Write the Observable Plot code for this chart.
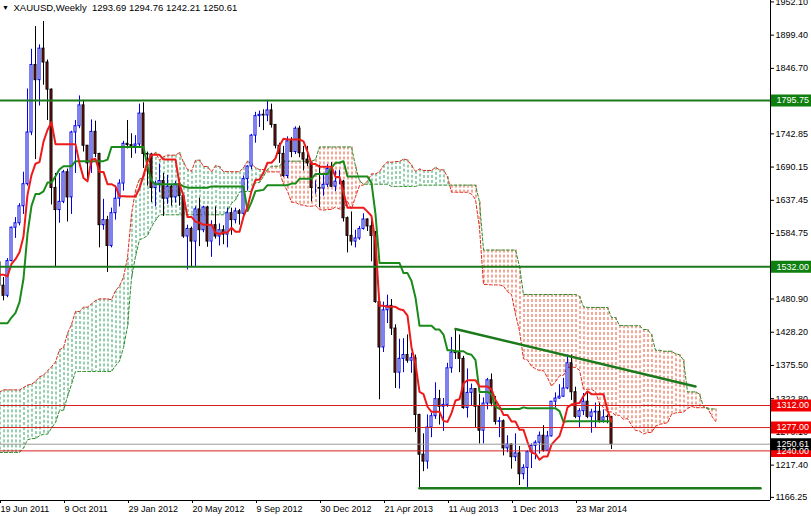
<!DOCTYPE html>
<html><head><meta charset="utf-8">
<script src="https://cdn.jsdelivr.net/npm/d3@7"></script>
<script src="https://cdn.jsdelivr.net/npm/@observablehq/plot@0.6"></script>
<style>html,body{margin:0;padding:0;background:#fff;} svg{display:block;}</style>
</head><body><div id="chart"></div>
<script>
// ---------- data (weekly bars, index 0 = week of 19 Jun 2011) ----------
const symbolName = "XAUUSD,Weekly";
const barOpen = [
1539,1502,1486,1541,1594,1601,1628,1663,1745,1852,
1828,1878,1856,1813,1657,1622,1635,1682,1642,1745,
1755,1788,1724,1696,1746,1711,1598,1606,1565,1617,
1640,1664,1727,1725,1723,1726,1775,1711,1710,1657,
1663,1668,1640,1659,1642,1663,1644,1580,1592,1572,
1623,1590,1626,1572,1598,1580,1590,1583,1617,1606,
1620,1616,1671,1691,1740,1771,1773,1772,1780,1757,
1724,1711,1676,1731,1714,1751,1712,1702,1696,1657,
1657,1656,1662,1687,1659,1667,1667,1609,1581,1572,
1577,1592,1607,1596,1581,1476,1404,1463,1470,1434,
1364,1386,1392,1383,1387,1297,1234,1223,1277,1295,
1322,1310,1313,1371,1396,1395,1386,1308,1332,1338,
1310,1272,1315,1352,1315,1286,1287,1244,1250,1230,
1236,1203,1213,1238,1248,1253,1264,1240,1263,1318,
1323,1326,1339,1379,1333,1294,1303,1318,1294,1301,
1302,1288,1294,1293.69];
const barHigh = [
1556,1515,1545,1595,1610,1632,1682,1814,1877,1913,
1884,1921,1860,1814,1680,1680,1685,1687,1747,1764,
1803,1796,1724,1765,1763,1712,1639,1612,1625,1660,
1670,1731,1764,1743,1740,1790,1792,1714,1712,1668,
1695,1680,1677,1661,1667,1670,1645,1598,1595,1627,
1641,1628,1628,1605,1627,1600,1597,1625,1625,1625,
1623,1676,1692,1742,1777,1779,1781,1796,1790,1757,
1728,1723,1738,1737,1754,1755,1723,1723,1698,1668,
1693,1679,1694,1697,1684,1685,1669,1611,1619,1590,
1596,1616,1608,1605,1588,1480,1476,1487,1480,1440,
1417,1418,1424,1395,1392,1298,1267,1297,1300,1348,
1336,1323,1379,1420,1433,1424,1390,1370,1346,1338,
1330,1324,1355,1362,1326,1293,1289,1264,1251,1267,
1247,1218,1240,1251,1256,1270,1280,1271,1318,1332,
1345,1355,1392,1392,1341,1307,1331,1331,1306,1316,
1315,1305,1297,1294.76];
const barLow = [
1495,1478,1483,1540,1577,1597,1615,1660,1740,1702,
1787,1820,1764,1630,1532,1601,1632,1603,1615,1680,
1751,1714,1670,1680,1705,1562,1590,1523,1562,1606,
1627,1652,1719,1704,1711,1722,1688,1660,1634,1627,
1650,1612,1631,1628,1633,1628,1577,1527,1532,1532,
1564,1586,1563,1547,1576,1565,1567,1562,1582,1600,
1598,1612,1652,1686,1728,1753,1748,1762,1752,1719,
1696,1674,1672,1705,1710,1705,1684,1691,1635,1647,
1626,1644,1658,1658,1651,1662,1603,1554,1565,1562,
1574,1590,1588,1540,1474,1321,1396,1442,1423,1339,
1338,1364,1379,1363,1269,1180,1207,1211,1261,1290,
1281,1271,1309,1363,1385,1364,1306,1292,1311,1277,
1251,1251,1305,1310,1281,1261,1232,1237,1211,1223,
1185,1194,1182,1212,1226,1235,1238,1240,1262,1308,
1322,1325,1337,1320,1291,1277,1296,1291,1268,1277,
1284,1284,1283,1242.21];
const barClose = [
1502,1486,1541,1594,1601,1628,1663,1745,1852,1828,
1878,1856,1813,1657,1622,1635,1682,1642,1745,1755,
1788,1724,1696,1746,1711,1598,1606,1565,1617,1640,
1664,1727,1725,1723,1726,1775,1711,1710,1657,1663,
1668,1640,1659,1642,1663,1644,1580,1592,1572,1623,
1590,1626,1572,1598,1580,1590,1583,1617,1606,1620,
1616,1671,1691,1740,1771,1773,1772,1780,1757,1724,
1711,1676,1731,1714,1751,1712,1702,1696,1657,1657,
1656,1662,1687,1659,1667,1667,1609,1581,1572,1577,
1592,1607,1596,1581,1476,1404,1463,1470,1434,1364,
1386,1392,1383,1387,1297,1234,1223,1277,1295,1322,
1310,1313,1371,1396,1395,1386,1308,1332,1338,1310,
1272,1315,1352,1315,1286,1287,1244,1250,1230,1236,
1203,1213,1238,1248,1253,1264,1240,1263,1318,1323,
1326,1339,1379,1333,1294,1303,1318,1294,1301,1302,
1288,1293,1293.69,1250.61];

// Ichimoku lines (Tenkan red, Kijun green), one value per bar
const tenkan = [
1519.5,1519.5,1517,1536.5,1544,1555,1580,1646,1677.5,1695.5,
1698,1730.5,1749,1761.5,1726.5,1726.5,1726.5,1726.5,1726.5,1726.5,
1696,1673,1667.5,1702,1703,1682.5,1682.5,1663,1663,1659.5,
1644,1644,1643.5,1643.5,1643.5,1656.5,1677,1699,1709.5,1709.5,
1709.5,1702,1702,1702,1702,1663,1644.5,1611,1611,1603.5,
1602,1598.5,1598.5,1598.5,1586,1584,1586.5,1586.5,1594,1587.5,
1587.5,1611.5,1627,1652,1669.5,1670.5,1681.5,1697,1697,1704,
1724,1735,1734,1734,1734,1734,1731,1714.5,1695,1695,
1690.5,1690.5,1690.5,1690.5,1674.5,1674.5,1650,1625.5,1625.5,1625.5,
1625.5,1625.5,1619.5,1612.5,1571.5,1470,1470,1468.5,1468.5,1468.5,
1464.5,1463,1454.5,1404,1378,1333.5,1330,1310,1302,1302,
1302,1287.5,1286,1300,1320,1322,1347,1352,1352,1352,
1342,1342,1342,1337.5,1320.5,1310.5,1297,1297,1286.5,1286.5,
1273.5,1273.5,1254,1237.5,1235.5,1226,1231,1231,1250,1257,
1263.5,1283.5,1309,1313.5,1315,1316,1327,1334.5,1330,1330,
1330,1330,1304.5,1286.5];
const kijun = [
1442.5,1442.5,1442.5,1451.5,1459,1476,1513,1584.5,1628.5,1647.5,
1647.5,1651.5,1665.5,1665.5,1675.5,1686.5,1691.5,1691.5,1691.5,1699.5,
1699.5,1699.5,1699.5,1699.5,1699.5,1699.5,1699.5,1702,1722,1722,
1722,1722,1722,1722,1722,1722,1722,1691.5,1668.5,1663,
1663,1663,1663,1663,1663,1663,1659.5,1657.5,1657.5,1657.5,
1657.5,1657.5,1657.5,1659.5,1659.5,1659.5,1659.5,1659.5,1659.5,1659.5,
1659.5,1659.5,1620.5,1634.5,1652,1653,1654,1661.5,1661.5,1661.5,
1661.5,1661.5,1661.5,1664,1664,1671.5,1671.5,1671.5,1671.5,1679,
1679,1679,1679,1689,1697,1697,1699.5,1675,1675,1675,
1675,1675,1675,1665,1615.5,1538,1538,1538,1538,1538,
1538,1522,1522,1509.5,1483,1438.5,1438.5,1438.5,1438.5,1432.5,
1432.5,1424.5,1399.5,1399.5,1398,1398,1398,1394,1392.5,1384,
1333.5,1333.5,1333.5,1330,1310,1306.5,1306.5,1306.5,1306.5,1306.5,
1306.5,1309,1307.5,1307.5,1307.5,1307.5,1307.5,1307.5,1307.5,1307.5,
1303,1286,1287,1287,1287,1287,1287,1287,1287,1287,
1287,1287,1287,1287];
// Cloud edges (Senkou Span A red dashed, Span B green dashed), bars 0..179 (26 bars ahead)
const spanA = [
1333.25,1336.75,1336.75,1336.75,1336.75,1336.5,1340.5,1344.25,1345.75,1350,
1357.5,1360,1367,1373.5,1381,1400.5,1403.75,1426.5,1440.5,1461,
1461,1468,1468,1473,1478.5,1481,
1481,1481,1479.75,1494,1501.5,1515.5,1546.5,1615.25,1653,1671.5,
1672.75,1691,1707.25,1713.5,1701,1706.5,1709,1709,1709,1713,
1697.75,1686.25,1683.5,1700.75,1701.25,1691,1691,1682.5,1692.5,1690.75,
1683,1683,1682.75,1682.75,1682.75,1689.25,1699.5,1695.25,1689,1686.25,
1686.25,1682.5,1682.5,1682.5,1682.5,1663,1652,1634.25,1634.25,1630.5,
1629.75,1628,1628,1629,1622.75,1621.75,1623,1623,1626.75,1623.5,
1623.5,1635.5,1623.75,1643.25,1660.75,1661.75,1667.75,1679.25,1679.25,1682.75,
1692.75,1698.25,1697.75,1699,1699,1702.75,1701.25,1693,1683.25,1687,
1684.75,1684.75,1684.75,1689.75,1685.75,1685.75,1674.75,1650.25,1650.25,1650.25,
1650.25,1650.25,1647.25,1638.75,1593.5,1504,1504,1503.25,1503.25,1503.25,
1501.25,1492.5,1488.25,1456.75,1430.5,1386,1384.25,1374.25,1370.25,1367.25,
1367.25,1356,1342.75,1349.75,1359,1360,1372.5,1373,1372.25,1368,
1337.75,1337.75,1337.75,1333.75,1315.25,1308.5,1301.75,1301.75,1296.5,1296.5,
1290,1291.25,1280.75,1272.5,1271.5,1266.75,1269.25,1269.25,1278.75,1282.25,
1283.25,1284.75,1298,1300.25,1301,1301.5,1307,1310.75,1308.5,1308.5,
1308.5,1308.5,1295.75,1286.75];
const spanB = [
1237.5,1237.5,1237.5,1237.5,1237.5,1237.5,1244.5,1257.5,1259.5,1259.5,
1264,1266.5,1266.5,1276,1285,1304,1304.5,1326.5,1345.5,1366,
1366,1366,1366,1366,1366,1366,1366,1366,1366,1375,
1382.5,1404,1437,1514,1548.5,1575,1577.5,1581.5,1595.5,1605.5,
1614.5,1614.5,1614.5,1614.5,1614.5,1614.5,1614.5,1614.5,1614.5,1614.5,
1614.5,1614.5,1614.5,1614.5,1614.5,1614.5,1614.5,1620.5,1632.5,1638,
1650.5,1651.5,1651.5,1651.5,1665.5,1665.5,1675.5,1686.5,1691.5,1691.5,
1691.5,1699.5,1699.5,1699.5,1699.5,1699.5,1699.5,1699.5,1699.5,1702,
1722,1722,1722,1722,1722,1722,1722,1722,1722,1691.5,
1668.5,1663,1663,1663,1663,1663,1663,1663,1659.5,1659.5,
1659.5,1659.5,1659.5,1659.5,1659.5,1661.5,1661.5,1661.5,1661.5,1661.5,
1661.5,1661.5,1661.5,1661.5,1661.5,1661.5,1661.5,1661.5,1661.5,1661.5,
1635,1558.5,1558.5,1558.5,1558.5,1558.5,1558.5,1558.5,1558.5,1558.5,
1532.5,1488,1488,1488,1488,1488,1488,1488,1488,1488,
1488,1488,1488,1488,1488,1485,1468.5,1467.5,1467.5,1467.5,
1467.5,1467.5,1467.5,1451.5,1451.5,1439,1438.5,1438.5,1438.5,1438.5,
1438.5,1432.5,1432.5,1424.5,1399.5,1399.5,1398,1398,1398,1394,
1392.5,1384,1333.5,1333.5,1333.5,1330,1310,1306.5,1306.5,1306.5];

// axis labels
const xTickIndex = [0,16,32,48,64,80,96,112,128,144];
const xTickLabels = ["19 Jun 2011","9 Oct 2011","29 Jan 2012","20 May 2012","9 Sep 2012","30 Dec 2012","21 Apr 2013","11 Aug 2013","1 Dec 2013","23 Mar 2014"];
const yTickValues = [1952.10,1899.40,1846.70,1742.85,1690.15,1637.45,1584.75,1480.90,1428.20,1375.50,1322.80,1270.10,1217.40,1166.25];

// drawn objects
const majorLevels = [1795.75, 1532.00];
const minorLevels = [1312.00, 1277.00, 1240.00];
const currentPrice = 1250.61;
const supportBars = [105, 190.25];
const supportPrices = [1180.6, 1180.6];
const trendBars = [114, 174];
const trendPrices = [1433.3, 1342.2];

// ---------- build ----------
const xDomain = [0.25, 192.75];
const yDomain = [1161.3, 1954.35];
const candles = barOpen.map((o, i) => ({i, o, h: barHigh[i], l: barLow[i], c: barClose[i]}));
const bulls = candles.filter(d => d.c >= d.o);
const bears = candles.filter(d => d.c < d.o);
const lines = tenkan.map((t, i) => ({i, t, k: kijun[i]}));
const cloud = spanA.map((a, j) => ({j, a, b: spanB[j], top: Math.max(a, spanB[j]), bot: Math.min(a, spanB[j])}));
const cloudBull = cloud.filter(d => d.a >= d.b);
const cloudBear = cloud.filter(d => d.a < d.b);
const support = supportBars.map((j, n) => ({j, p: supportPrices[n]}));
const trend = trendBars.map((j, n) => ({j, p: trendPrices[n]}));
const labelEdge = xDomain[1];
const boxes = [
  ...majorLevels.map(p => ({p, bg: "#0f7f0f"})),
  ...minorLevels.map(p => ({p, bg: "#f00000"})),
  {p: currentPrice, bg: "#000000"}
];
const last = candles[candles.length - 1];
const titleText = `${symbolName}\u00a0\u00a0${last.o.toFixed(2)} ${last.h.toFixed(2)} ${last.l.toFixed(2)} ${last.c.toFixed(2)}`;

const GREEN = "#1b7a1b";
const chart = Plot.plot({
  width: 811, height: 516,
  marginLeft: 0, marginRight: 41, marginTop: 0, marginBottom: 16,
  style: {fontFamily: "'Liberation Sans', Arial, sans-serif", background: "#fff", color: "#000"},
  x: {domain: xDomain, axis: null},
  y: {domain: yDomain, axis: null},
  marks: [
    Plot.ruleX(cloudBull, {x: "j", y1: "top", y2: "bot", dx: 0.5, stroke: "#2fa060", strokeWidth: 1, strokeDasharray: "3,2", ariaLabel: "hatch"}),
    Plot.ruleX(cloudBear, {x: "j", y1: "top", y2: "bot", dx: 0.5, stroke: "#e8502a", strokeWidth: 1, strokeDasharray: "3,2", ariaLabel: "hatch"}),
    Plot.line(cloud, {x: "j", y: "a", stroke: "#e02a1a", strokeWidth: 1, strokeDasharray: "3,2"}),
    Plot.line(cloud, {x: "j", y: "b", stroke: "#2a8a2a", strokeWidth: 1, strokeDasharray: "3,2"}),
    Plot.ruleX(bulls, {x: "i", y1: "l", y2: "h", stroke: "#0000e6", strokeWidth: 1}),
    Plot.ruleX(bears, {x: "i", y1: "l", y2: "h", stroke: "#000", strokeWidth: 1}),
    Plot.rect(bulls, {x1: d => d.i - 0.25, x2: d => d.i + 0.25, y1: "o", y2: "c", fill: "#fff", stroke: "#0000e6", strokeWidth: 1}),
    Plot.rect(bears, {x1: d => d.i - 0.25, x2: d => d.i + 0.25, y1: "o", y2: "c", fill: "#8b1a14", stroke: "#000", strokeWidth: 1}),
    Plot.line(lines, {x: "i", y: "k", stroke: "#1a8a1a", strokeWidth: 2}),
    Plot.line(lines, {x: "i", y: "t", stroke: "#ee1a1a", strokeWidth: 2}),
    Plot.ruleY([currentPrice], {stroke: "#9a9a9a", strokeWidth: 1}),
    Plot.ruleY(minorLevels, {stroke: "#d81e1e", strokeWidth: 1}),
    Plot.ruleY(majorLevels, {stroke: GREEN, strokeWidth: 2}),
    Plot.line(support, {x: "j", y: "p", stroke: GREEN, strokeWidth: 2.5}),
    Plot.line(trend, {x: "j", y: "p", stroke: GREEN, strokeWidth: 2.5}),
    Plot.ruleX([xDomain[1]], {stroke: "#000", strokeWidth: 1}),
    Plot.ruleY([yDomain[0]], {stroke: "#000", strokeWidth: 1}),
    Plot.axisY(yTickValues, {anchor: "right", tickSize: 3, tickPadding: 2, tickFormat: d => d.toFixed(2), fontSize: 9, stroke: "#000", fill: "#000", label: null}),
    Plot.axisX(xTickIndex, {anchor: "bottom", tickSize: 3, tickPadding: 2, tickFormat: d => xTickLabels[xTickIndex.indexOf(d)], textAnchor: "start", dx: 1, fontSize: 9, stroke: "#000", fill: "#000", label: null}),
    Plot.ruleY(boxes, {y: "p", x1: labelEdge + 0.25, x2: labelEdge + 10.25, stroke: "bg", strokeWidth: 12}),
    Plot.text(boxes, {y: "p", x: labelEdge + 0.25, text: d => d.p.toFixed(2), dx: 5, textAnchor: "start", fill: "#fff", fontSize: 9}),
    Plot.text([titleText], {frameAnchor: "top-left", dx: 13, dy: 7, lineAnchor: "middle", textAnchor: "start", fontSize: 9.5, fill: "#000"}),
    Plot.text(["\u25BC"], {frameAnchor: "top-left", dx: 5, dy: 7, lineAnchor: "middle", textAnchor: "middle", fontSize: 7, fill: "#000"})
  ]
});
// align the dotted hatch rows to a common screen grid (as the platform draws them)
chart.querySelectorAll('g[aria-label="hatch"] line').forEach(el => {
  const y1 = parseFloat(el.getAttribute("y1"));
  if (Number.isFinite(y1)) el.setAttribute("stroke-dashoffset", ((y1 % 5) + 5) % 5);
});
document.getElementById("chart").appendChild(chart);
</script>
</body></html>
